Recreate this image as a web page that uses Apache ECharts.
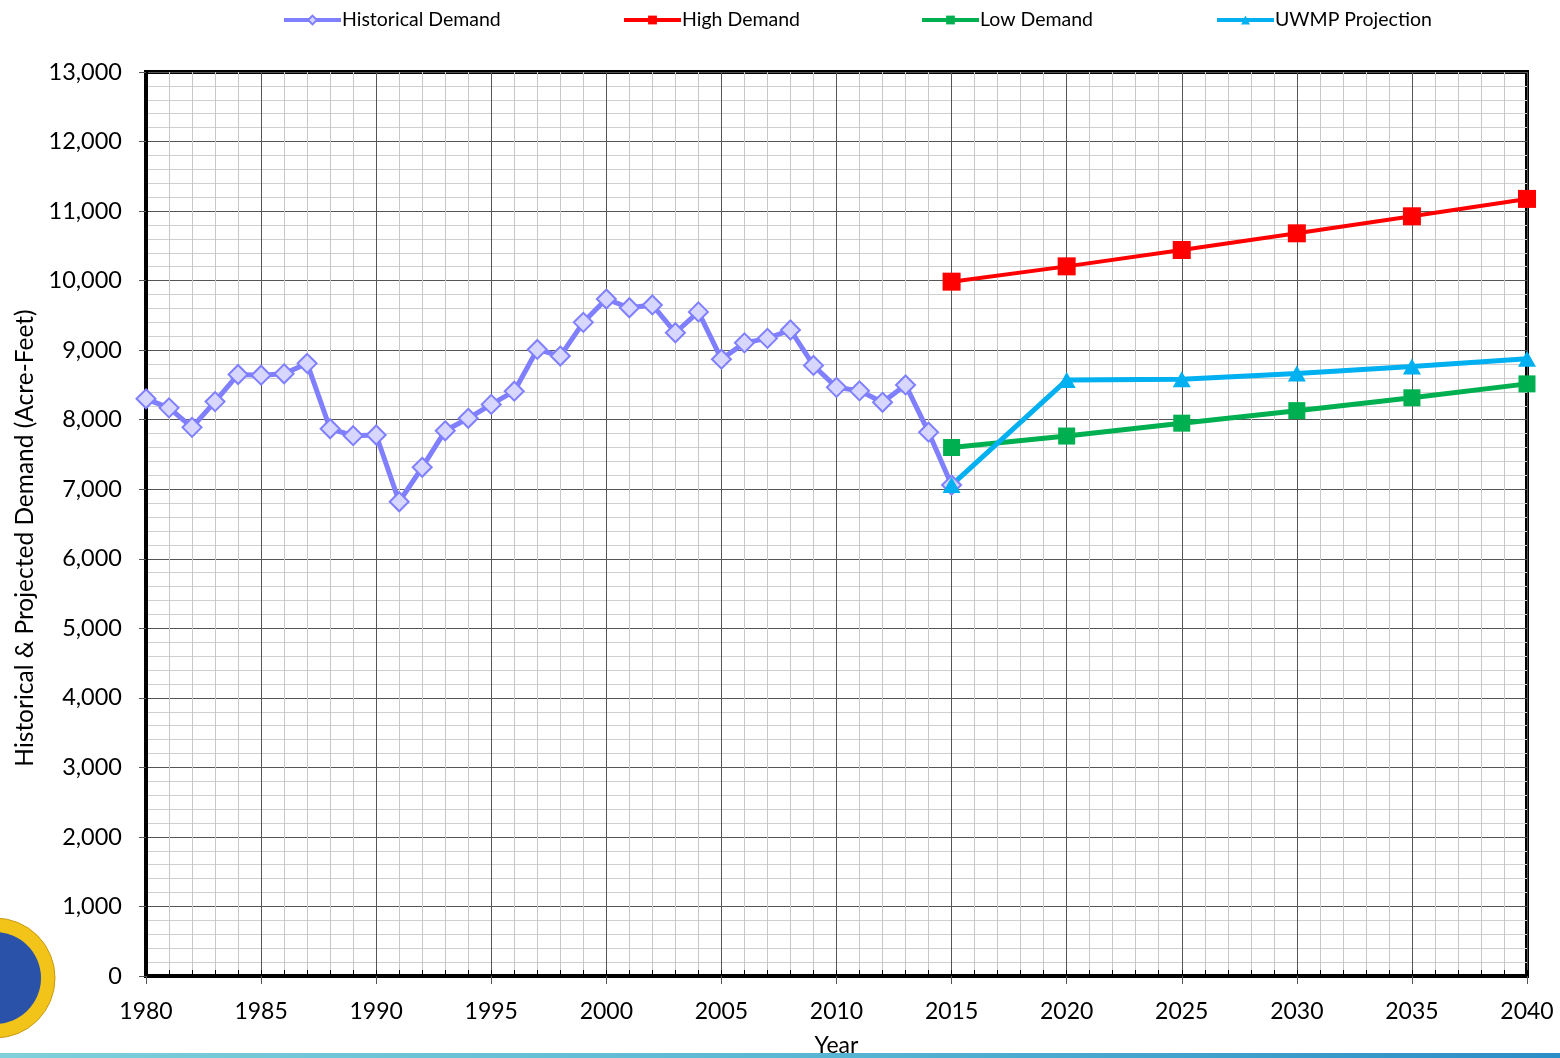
<!DOCTYPE html>
<html>
<head>
    <meta charset="UTF-8">
    <title>Historical and Projected Demand</title>
    <script type="text/javascript" src="https://cdn.jsdelivr.net/npm/echarts@6/dist/echarts.min.js"></script>
    <style>
        html, body { margin: 0; padding: 0; background: #fff; }
    </style>
</head>
<body>
    <div id="demand_chart" style="width:1560px; height:1058px;"></div>
    <script>
        // values (acre-feet)
        var histYears = [1980, 1981, 1982, 1983, 1984, 1985, 1986, 1987, 1988, 1989,
                         1990, 1991, 1992, 1993, 1994, 1995, 1996, 1997, 1998, 1999,
                         2000, 2001, 2002, 2003, 2004, 2005, 2006, 2007, 2008, 2009,
                         2010, 2011, 2012, 2013, 2014, 2015];
        var histDemand = [8300, 8170, 7890, 8260, 8650, 8640, 8660, 8810, 7870, 7770,
                          7780, 6820, 7315, 7840, 8020, 8220, 8410, 9010, 8915, 9400,
                          9735, 9610, 9650, 9250, 9550, 8870, 9105, 9170, 9290, 8780,
                          8465, 8415, 8250, 8500, 7820, 7060];
        var projYears = [2015, 2020, 2025, 2030, 2035, 2040];
        var highDemand = [9985, 10205, 10440, 10680, 10925, 11175];
        var lowDemand = [7600, 7765, 7950, 8130, 8315, 8515];
        var uwmpDemand = [7060, 8570, 8580, 8665, 8765, 8875];
        var seriesNames = ["Historical Demand", "High Demand", "Low Demand", "UWMP Projection"];

        function pairs(xs, ys) {
            return xs.map(function (x, i) { return [x, ys[i]]; });
        }

        var chart_demand = echarts.init(document.getElementById('demand_chart'), null, {renderer: 'canvas'});
        var fontName = 'Lato';

        function legendAt(name, left) {
            return {
                data: [name],
                left: left,
                top: 10,
                itemWidth: 57,
                itemHeight: 11,
                itemGap: 0,
                padding: 0,
                lineStyle: {width: 4},
                textStyle: {fontFamily: fontName, fontSize: 19.5, color: '#000', padding: [0, 0, 0, -4]}
            };
        }

        var option_demand = {
            animation: false,
            backgroundColor: '#fff',
            legend: [
                legendAt(seriesNames[0], 282),
                legendAt(seriesNames[1], 622),
                legendAt(seriesNames[2], 920),
                legendAt(seriesNames[3], 1215)
            ],
            grid: {
                left: 146, right: 33, top: 72, bottom: 82,
                show: true, borderColor: '#000', borderWidth: 4,
                containLabel: false,
                outerBoundsMode: 'none'
            },
            xAxis: [
                {
                    type: 'value',
                    min: 1980, max: 2040, interval: 5,
                    name: 'Year',
                    nameLocation: 'middle',
                    nameGap: 58,
                    nameTextStyle: {fontFamily: fontName, fontSize: 23, color: '#000'},
                    axisLine: {show: true, lineStyle: {color: '#000', width: 4}},
                    axisTick: {show: true, length: 8, lineStyle: {color: '#555', width: 1}},
                    axisLabel: {
                        fontFamily: fontName, fontSize: 23, color: '#000', margin: 24,
                        formatter: function (v) { return String(v); }
                    },
                    splitLine: {show: true, lineStyle: {color: '#555', width: 1}},
                    minorTick: {show: false, splitNumber: 5},
                    minorSplitLine: {show: true, lineStyle: {color: '#c8c8c8', width: 1}}
                },
                {
                    type: 'value',
                    position: 'bottom',
                    min: 1980, max: 2040, interval: 1,
                    axisLine: {show: false},
                    axisTick: {show: true, inside: true, length: 6, lineStyle: {color: '#000', width: 1}},
                    axisLabel: {show: false},
                    splitLine: {show: false}
                }
            ],
            yAxis: {
                type: 'value',
                min: 0, max: 13000, interval: 1000,
                name: 'Historical & Projected Demand (Acre-Feet)',
                nameLocation: 'middle',
                nameGap: 108,
                nameTextStyle: {fontFamily: fontName, fontSize: 24.5, color: '#000', padding: [0, 28, 0, 0]},
                axisLine: {show: true, lineStyle: {color: '#000', width: 4}},
                axisTick: {show: true, length: 7, lineStyle: {color: '#555', width: 1}},
                axisLabel: {
                    fontFamily: fontName, fontSize: 23.5, color: '#000', margin: 24,
                    formatter: function (v) { return v.toLocaleString('en-US'); }
                },
                splitLine: {show: true, lineStyle: {color: '#555', width: 1}},
                minorTick: {show: false, splitNumber: 5},
                minorSplitLine: {show: true, lineStyle: {color: '#cfcfcf', width: 1}}
            },
            series: [
                {
                    name: seriesNames[0],
                    type: 'line',
                    data: pairs(histYears, histDemand),
                    symbol: 'diamond',
                    symbolSize: 19,
                    lineStyle: {color: '#7f7fff', width: 5},
                    itemStyle: {color: '#d6d6ff', borderColor: '#7f7fff', borderWidth: 2}
                },
                {
                    name: seriesNames[1],
                    type: 'line',
                    data: pairs(projYears, highDemand),
                    symbol: 'rect',
                    symbolSize: 18,
                    lineStyle: {color: '#ff0000', width: 4},
                    itemStyle: {color: '#ff0000'}
                },
                {
                    name: seriesNames[2],
                    type: 'line',
                    data: pairs(projYears, lowDemand),
                    symbol: 'rect',
                    symbolSize: 17,
                    lineStyle: {color: '#00b050', width: 5},
                    itemStyle: {color: '#00b050'}
                },
                {
                    name: seriesNames[3],
                    type: 'line',
                    data: pairs(projYears, uwmpDemand),
                    symbol: 'triangle',
                    symbolSize: [18, 16],
                    lineStyle: {color: '#00b0f0', width: 5},
                    itemStyle: {color: '#00b0f0'}
                }
            ],
            graphic: [
                {
                    type: 'rect',
                    left: 0, top: 1053,
                    shape: {width: 1560, height: 5},
                    style: {
                        fill: new echarts.graphic.LinearGradient(0, 0, 1, 0, [
                            {offset: 0, color: '#7fd0da'},
                            {offset: 0.5, color: '#5ab8d4'},
                            {offset: 1, color: '#2b8ec6'}
                        ])
                    }
                },
                {
                    type: 'circle',
                    shape: {cx: -5, cy: 978, r: 60},
                    style: {fill: '#f2c419', stroke: '#c99a10', lineWidth: 1}
                },
                {
                    type: 'circle',
                    shape: {cx: -5, cy: 978, r: 46},
                    style: {fill: '#2a52a8'}
                }
            ]
        };
        chart_demand.setOption(option_demand);
    </script>
</body>
</html>
